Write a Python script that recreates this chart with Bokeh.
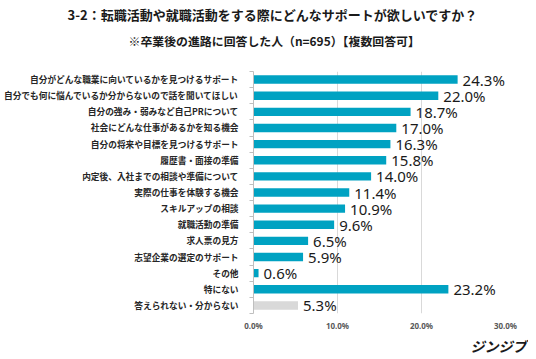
from bokeh.plotting import figure
from bokeh.models import Range1d, FixedTicker, PrintfTickFormatter, ColumnDataSource, Title
from bokeh.core.properties import value
from bokeh.embed import file_html
from bokeh.resources import INLINE

title_text = "3-2：転職活動や就職活動をする際にどんなサポートが欲しいですか？"
subtitle_text = "※卒業後の進路に回答した人（n=695）【複数回答可】"
logo_text = "ジンジブ"

categories = [
    "自分がどんな職業に向いているかを見つけるサポート",
    "自分でも何に悩んでいるか分からないので話を聞いてほしい",
    "自分の強み・弱みなど自己PRについて",
    "社会にどんな仕事があるかを知る機会",
    "自分の将来や目標を見つけるサポート",
    "履歴書・面接の準備",
    "内定後、入社までの相談や準備について",
    "実際の仕事を体験する機会",
    "スキルアップの相談",
    "就職活動の準備",
    "求人票の見方",
    "志望企業の選定のサポート",
    "その他",
    "特にない",
    "答えられない・分からない",
]
values = [24.3, 22.0, 18.7, 17.0, 16.3, 15.8, 14.0, 11.4, 10.9, 9.6, 6.5, 5.9, 0.6, 23.2, 5.3]
x_ticks = [0, 10, 20, 30]

BLUE = "#00A2C2"
GRAY = "#D9D9D9"
n = len(categories)
idx = list(range(n))
colors = [GRAY if c == "答えられない・分からない" else BLUE for c in categories]
labels = [f"{v:.1f}%" for v in values]

src = ColumnDataSource(dict(y=idx, v=values, c=colors, lab=labels))

LEFT, RIGHT = 245, 23
FW, FH = 252, 242

p = figure(frame_width=FW, frame_height=FH, output_backend="svg", toolbar_location=None,
           x_range=Range1d(0, 30), y_range=Range1d(n - 0.5, -0.5),
           min_border_left=LEFT, min_border_right=RIGHT,
           min_border_top=0, min_border_bottom=0)
p.outline_line_color = None
p.background_fill_color = "white"
p.border_fill_color = "white"

p.hbar(y="y", left=0, right="v", height=0.52, fill_color="c", line_color=None, source=src)
p.text(x="v", y="y", text="lab", source=src, x_offset=5, text_baseline="middle",
       text_align="left", text_font=value("Noto Sans"), text_font_size="15px",
       text_color="#1a1a1a")

# x axis
xa = p.xaxis[0]
xa.ticker = FixedTicker(ticks=x_ticks)
xa.formatter = PrintfTickFormatter(format="%.1f%%")
xa.axis_line_color = None
xa.major_tick_line_color = None
xa.minor_tick_line_color = None
xa.major_tick_out = 0
xa.minor_tick_out = 0
xa.major_label_standoff = 6
xa.major_label_text_font = "Noto Sans"
xa.major_label_text_font_style = "bold"
xa.major_label_text_font_size = "8px"
xa.major_label_text_color = "#595959"

# y axis
ya = p.yaxis[0]
ya.ticker = FixedTicker(ticks=idx, minor_ticks=[i - 0.5 for i in range(n + 1)])
ya.major_label_overrides = {i: c for i, c in enumerate(categories)}
ya.axis_line_color = "#bfbfbf"
ya.major_tick_line_color = None
ya.minor_tick_line_color = "#bfbfbf"
ya.minor_tick_out = 4
ya.minor_tick_in = 0
ya.major_tick_out = 0
ya.major_label_standoff = 11
ya.major_label_text_font = "Noto Sans CJK JP"
ya.major_label_text_font_style = "bold"
ya.major_label_text_font_size = "8.7px"
ya.major_label_text_color = "#262626"

p.xgrid.grid_line_color = "#d9d9d9"
p.xgrid.ticker = FixedTicker(ticks=x_ticks[1:])
p.ygrid.grid_line_color = None

# above: spacer (closest to frame), subtitle, title
p.add_layout(Title(text=" ", standoff=16, text_font_size="1px"), "above")
p.add_layout(Title(text=subtitle_text, align="left", offset=-125, standoff=8,
                   text_font="Noto Sans CJK JP", text_font_style="bold",
                   text_font_size="11.9px", text_color="#1a1a1a"), "above")
p.add_layout(Title(text=title_text, align="left", offset=-186, standoff=4,
                   text_font="Noto Sans CJK JP", text_font_style="bold",
                   text_font_size="13px", text_color="#1a1a1a"), "above")
# below: logo
p.add_layout(Title(text=logo_text, align="right", offset=-21, standoff=0,
                   text_font="Noto Sans CJK JP", text_font_style="bold italic",
                   text_font_size="14px", text_color="#1a1a1a"), "below")

open("out.html", "w").write(file_html(p, INLINE))
